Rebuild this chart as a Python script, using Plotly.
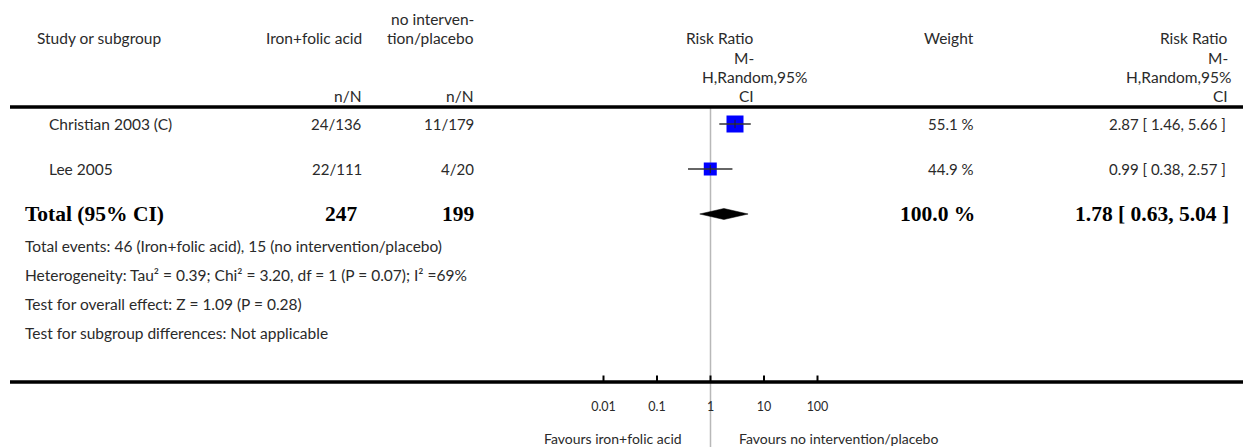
import plotly.graph_objects as go

W, H = 1258, 447
OFF = 8  # the page body margin shifts the figure by 8px

# ---- data ----
studies = ["Christian 2003 (C)", "Lee 2005"]
treat_nN = ["24/136", "22/111"]
ctrl_nN = ["11/179", "4/20"]
weights = [55.1, 44.9]
rr = [2.87, 0.99]
rr_lo = [1.46, 0.38]
rr_hi = [5.66, 2.57]

total_treat = 247
total_ctrl = 199
total_weight = 100.0
total_rr = 1.78
total_lo = 0.63
total_hi = 5.04

footer_lines = [
    "Total events: 46 (Iron+folic acid), 15 (no intervention/placebo)",
    "Heterogeneity: Tau² = 0.39; Chi² = 3.20, df = 1 (P = 0.07); I² =69%",
    "Test for overall effect: Z = 1.09 (P = 0.28)",
    "Test for subgroup differences: Not applicable",
]

tick_vals = [0.01, 0.1, 1, 10, 100]
tick_text = ["0.01", "0.1", "1", "10", "100"]

# ---- layout helpers (pixel geometry of the reference) ----
ROW0, ROWSTEP = 124, 45          # pixel y of first study row, spacing
PX_ONE, PX_DECADE = 710.5, 53.5  # pixel x of RR=1, pixels per decade
FW, FH = W - OFF, H - OFF


def ry(px):
    return (px - ROW0) / ROWSTEP


def px_x(px):
    return (px - OFF) / FW


def px_y(px):
    return 1 - (px - OFF) / FH


FONT = "Lato"
SERIF = "Liberation Serif"
TXT = "#2a2a2a"
FS, FSN, FSB = 15.5, 15, 21.5

fig = go.Figure()

# reference line at RR = 1
fig.add_trace(go.Scatter(x=[1, 1], y=[ry(108), ry(H)], mode="lines",
                         line=dict(color="#b8b8b8", width=1.5),
                         hoverinfo="skip", showlegend=False))

# study squares, then CI lines on top
marker_px = [17, 13]
rows = list(range(len(studies)))
fig.add_trace(go.Scatter(x=rr, y=rows, mode="markers",
                         marker=dict(symbol="square", size=marker_px, color="#0000ff",
                                     opacity=1, line=dict(width=0)),
                         showlegend=False))
for i in rows:
    fig.add_trace(go.Scatter(x=[rr_lo[i], rr_hi[i]], y=[i, i], mode="lines",
                             line=dict(color="#333333", width=1.5),
                             showlegend=False))
fig.add_trace(go.Scatter(x=rr, y=rows, mode="markers",
                         marker=dict(symbol="line-ns", size=6,
                                     line=dict(color="#222222", width=1)),
                         showlegend=False))

# pooled diamond
trow = len(studies)
half = 5.5 / ROWSTEP
fig.add_trace(go.Scatter(x=[total_lo, total_rr, total_hi, total_rr, total_lo],
                         y=[trow, trow - half, trow, trow + half, trow],
                         mode="lines", fill="toself", fillcolor="black",
                         line=dict(color="black", width=0.5), showlegend=False))

# axis ticks on the bottom rule
for v in tick_vals:
    fig.add_trace(go.Scatter(x=[v, v], y=[ry(375.5), ry(382)], mode="lines",
                             line=dict(color="black", width=2), showlegend=False))
fig.add_trace(go.Scatter(x=tick_vals, y=[ry(408)] * len(tick_vals), mode="text",
                         text=tick_text, textfont=dict(family=FONT, size=12.5, color=TXT),
                         showlegend=False))

ann = []


def text(x, y, s, anchor="left", size=FS, family=FONT, color=TXT):
    ann.append(dict(x=px_x(x), y=px_y(y), xref="paper", yref="paper", text=s,
                    showarrow=False, xanchor=anchor, yanchor="middle",
                    font=dict(family=family, size=size, color=color)))


# header
text(35, 38, "Study or subgroup")
text(364, 38, "Iron+folic acid", "right")
text(364, 96, "n/N", "right")
text(476, 19, "no interven-", "right")
text(476, 38, "tion/placebo", "right")
text(476, 96, "n/N", "right")
for (y, s) in [(38, "Risk Ratio"), (58, "M-"), (96, "CI")]:
    text(756, y, s, "right")
    text(1230, y, s, "right")
text(700, 77, "H,Random,95%")
text(1233, 77, "H,Random,95%", "right")
text(976, 38, "Weight", "right")

# study rows
for i in rows:
    y = ROW0 + i * ROWSTEP
    text(47, y, studies[i])
    text(364, y, treat_nN[i], "right", FSN)
    text(476, y, ctrl_nN[i], "right", FSN)
    text(976, y, f"{weights[i]:.1f} %", "right", FSN)
    text(1228, y, f"{rr[i]:.2f} [ {rr_lo[i]:.2f}, {rr_hi[i]:.2f} ]", "right", FSN)

# total row
ty = ROW0 + trow * ROWSTEP
text(23, ty, "<b>Total (95% CI)</b>", size=FSB, family=SERIF, color="black")
text(360, ty, f"<b>{total_treat}</b>", "right", FSB, SERIF, "black")
text(476, ty, f"<b>{total_ctrl}</b>", "right", FSB, SERIF, "black")
text(977, ty, f"<b>{total_weight:.1f} %</b>", "right", FSB, SERIF, "black")
text(1231, ty, f"<b>{total_rr:.2f} [ {total_lo:.2f}, {total_hi:.2f} ]</b>", "right",
     FSB, SERIF, "black")

for k, s in enumerate(footer_lines):
    text(23, 246 + k * 29, s)

text(684, 438, "Favours iron+folic acid", "right", 14)
text(737, 438, "Favours no intervention/placebo", "left", 14)

shapes = [
    dict(type="line", xref="paper", yref="paper", x0=px_x(10), x1=px_x(1243),
         y0=px_y(107), y1=px_y(107), line=dict(color="black", width=3.5)),
    dict(type="line", xref="paper", yref="paper", x0=px_x(10), x1=px_x(1243),
         y0=px_y(382), y1=px_y(382), line=dict(color="black", width=3.5)),
]

fig.update_layout(
    width=FW, height=FH,
    margin=dict(l=0, r=0, t=0, b=0, pad=0),
    paper_bgcolor="white", plot_bgcolor="white",
    xaxis=dict(type="log", range=[(OFF - PX_ONE) / PX_DECADE, (W - PX_ONE) / PX_DECADE],
               visible=False, domain=[0, 1]),
    yaxis=dict(range=[ry(H), ry(OFF)], visible=False, domain=[0, 1]),
    annotations=ann, shapes=shapes, showlegend=False,
)

fig.write_html("out.html")
